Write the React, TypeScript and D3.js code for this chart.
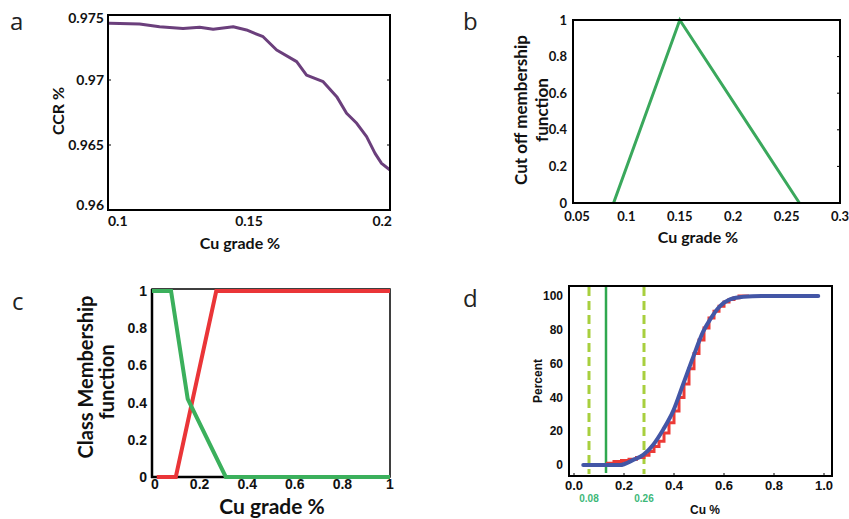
import React from "react";
import * as d3 from "d3";

// Panel a: CCR vs Cu grade cut-off
const ccrGrade = [0.1, 0.1006, 0.1112, 0.1183, 0.1266, 0.1325, 0.1373, 0.1444, 0.1491, 0.155, 0.1598, 0.1669, 0.1704, 0.1763, 0.1811, 0.1846, 0.1882, 0.1917, 0.1947, 0.197, 0.2];
const ccrValue = [0.97436, 0.97436, 0.97431, 0.9741, 0.97397, 0.97405, 0.9739, 0.9741, 0.97385, 0.97333, 0.97231, 0.97141, 0.97038, 0.96987, 0.96872, 0.96744, 0.96667, 0.96564, 0.96436, 0.96359, 0.96308];
const ccrYTicks = [0.96, 0.965, 0.97, 0.975];
const ccrYLabels = ["0.96", "0.965", "0.97", "0.975"];
const ccrXTicks = [0.1, 0.15, 0.2];
const ccrXLabels = ["0.1", "0.15", "0.2"];

// Panel b: triangular cut-off membership function
const cutGrade = [0.088, 0.15, 0.262];
const cutMembership = [0, 1, 0];
const cutXTicks = [0.05, 0.1, 0.15, 0.2, 0.25, 0.3];
const cutXLabels = ["0.05", "0.1", "0.15", "0.2", "0.25", "0.3"];
const unitTicks = [0, 0.2, 0.4, 0.6, 0.8, 1];
const unitLabels = ["0", "0.2", "0.4", "0.6", "0.8", "1"];

// Panel c: class membership functions
const highGrade = [0.02, 0.1, 0.27, 1];
const highMembership = [0, 0, 1, 1];
const lowGrade = [0, 0.08, 0.15, 0.31, 1];
const lowMembership = [1, 1, 0.42, 0, 0];
const classXLabels = ["0", "0.2", "0.4", "0.6", "0.8", "1"];

// Panel d: cumulative distribution of Cu %
const fitCu = [0.037, 0.184, 0.237, 0.277, 0.317, 0.357, 0.397, 0.437, 0.477, 0.517, 0.544, 0.584, 0.624, 0.677, 0.75, 0.977];
const fitPercent = [0, 0, 3, 6, 12, 21, 32, 48, 64, 79, 86, 94, 98, 99.6, 100, 100];
const sampleCu = [0.128, 0.16, 0.19, 0.22, 0.25, 0.28, 0.3, 0.32, 0.34, 0.36, 0.38, 0.4, 0.42, 0.44, 0.46, 0.48, 0.5, 0.52, 0.54, 0.56, 0.58, 0.6, 0.62, 0.64, 0.66, 0.7];
const samplePercent = [1, 2, 2.6, 3.4, 4.4, 5.8, 8, 11, 14, 19, 25, 32, 40, 48, 57, 66, 74, 81, 87, 91, 94, 96.5, 98, 99, 100, 100];
const boundCu = [0.06, 0.28];
const boundLabels = ["0.08", "0.26"];
const cutCu = 0.128;
const cdfYTicks = [0, 20, 40, 60, 80, 100];
const cdfXTicks = [0, 0.2, 0.4, 0.6, 0.8, 1.0];
const cdfXLabels = ["0.0", "0.2", "0.4", "0.6", "0.8", "1.0"];

const calibri = "Lato, 'Open Sans', sans-serif";
const arial = "'Liberation Sans', Arial, sans-serif";
const panelFont = "'Open Sans', sans-serif";

function zip(xs: number[], ys: number[]): [number, number][] {
  return xs.map((x, i) => [x, ys[i]]);
}

function PanelA() {
  const x = d3.scaleLinear().domain([0.1, 0.2]).range([108, 390]);
  const y = d3.scaleLinear().domain([0.96, 0.975]).range([210, 15]);
  const line = d3.line<[number, number]>().x((d) => x(d[0])).y((d) => y(d[1])).curve(d3.curveLinear);
  const last = ccrXTicks.length - 1;
  return (
    <g>
      <text x={10} y={30} fontFamily={panelFont} fontSize={24} fill="#222">a</text>
      <path d={line(zip(ccrGrade, ccrValue)) || ""} fill="none" stroke="#6b3f7c" strokeWidth={3} strokeLinejoin="round" />
      {ccrYTicks.map((t) => (
        <g key={t}>
          <line x1={108} x2={111} y1={y(t)} y2={y(t)} stroke="#000" />
          <line x1={387} x2={390} y1={y(t)} y2={y(t)} stroke="#000" />
        </g>
      ))}
      <rect x={108} y={15} width={282} height={195} fill="none" stroke="#000" strokeWidth={2} />
      {ccrYTicks.map((t, i) => (
        <text key={t} x={104} y={Math.min(Math.max(y(t), 18), 205)} dy="0.35em" textAnchor="end" fontFamily={calibri} fontWeight="bold" fontSize={14} fill="#111">{ccrYLabels[i]}</text>
      ))}
      {ccrXTicks.map((t, i) => (
        <text key={t} x={i === 0 ? x(t) : i === last ? x(t) + 2 : x(t)} y={226} textAnchor={i === 0 ? "start" : i === last ? "end" : "middle"} fontFamily={calibri} fontWeight="bold" fontSize={14} fill="#111">{ccrXLabels[i]}</text>
      ))}
      <text x={240} y={249} textAnchor="middle" fontFamily={calibri} fontWeight="bold" fontSize={16} fill="#111">Cu grade %</text>
      <text transform="translate(64,111) rotate(-90)" textAnchor="middle" fontFamily={calibri} fontWeight="bold" fontSize={16} fill="#111">CCR %</text>
    </g>
  );
}

function PanelB() {
  const x = d3.scaleLinear().domain([0.05, 0.3]).range([573, 840]);
  const y = d3.scaleLinear().domain([0, 1]).range([203, 20]);
  const line = d3.line<[number, number]>().x((d) => x(d[0])).y((d) => y(d[1]));
  return (
    <g>
      <text x={463} y={30} fontFamily={panelFont} fontSize={24} fill="#222">b</text>
      <path d={line(zip(cutGrade, cutMembership)) || ""} fill="none" stroke="#3aa85c" strokeWidth={3} strokeLinejoin="miter" />
      {unitTicks.map((t) => (
        <line key={t} x1={837} x2={840} y1={y(t)} y2={y(t)} stroke="#000" />
      ))}
      <rect x={573} y={20} width={267} height={183} fill="none" stroke="#000" strokeWidth={2} />
      {unitTicks.map((t, i) => (
        <text key={t} x={567} y={y(t)} dy="0.35em" textAnchor="end" fontFamily={calibri} fontWeight="bold" fontSize={13} fill="#111">{unitLabels[i]}</text>
      ))}
      {cutXTicks.map((t, i) => (
        <text key={t} x={x(t) + (i === 0 ? 4 : 0)} y={221} textAnchor="middle" fontFamily={calibri} fontWeight="bold" fontSize={13} fill="#111">{cutXLabels[i]}</text>
      ))}
      <text x={698} y={243} textAnchor="middle" fontFamily={calibri} fontWeight="bold" fontSize={16} fill="#111">Cu grade %</text>
      <text transform="translate(527,110) rotate(-90)" textAnchor="middle" fontFamily={calibri} fontWeight="bold" fontSize={17} fill="#111">Cut off membership</text>
      <text transform="translate(548,110) rotate(-90)" textAnchor="middle" fontFamily={calibri} fontWeight="bold" fontSize={17} fill="#111">function</text>
    </g>
  );
}

function PanelC() {
  const x = d3.scaleLinear().domain([0, 1]).range([152, 390]);
  const y = d3.scaleLinear().domain([0, 1]).range([477, 291]);
  const line = d3.line<[number, number]>().x((d) => x(d[0])).y((d) => y(d[1]));
  return (
    <g>
      <text x={12} y={310} fontFamily={panelFont} fontSize={24} fill="#222">c</text>
      <rect x={152} y={289} width={238} height={188} fill="none" stroke="#000" strokeWidth={1.5} />
      <line x1={152} x2={152} y1={289} y2={478} stroke="#000" strokeWidth={2.5} />
      <line x1={151} x2={390} y1={477} y2={477} stroke="#000" strokeWidth={2.5} />
      <path d={line(zip(highGrade, highMembership)) || ""} fill="none" stroke="#ea3538" strokeWidth={4} />
      <path d={line(zip(lowGrade, lowMembership)) || ""} fill="none" stroke="#3bb05c" strokeWidth={4} />
      {unitTicks.map((t, i) => (
        <text key={t} x={147} y={y(t)} dy="0.35em" textAnchor="end" fontFamily={arial} fontWeight="bold" fontSize={14} fill="#111">{unitLabels[i]}</text>
      ))}
      {unitTicks.map((t, i) => (
        <text key={t} x={x(t) + (i === 0 ? 3 : 0)} y={489} textAnchor="middle" fontFamily={arial} fontWeight="bold" fontSize={14} fill="#111">{classXLabels[i]}</text>
      ))}
      <text x={272} y={514} textAnchor="middle" fontFamily={calibri} fontWeight="bold" fontSize={21} fill="#111">Cu grade %</text>
      <text transform="translate(93,377) rotate(-90)" textAnchor="middle" fontFamily={calibri} fontWeight="bold" fontSize={20} fill="#111">Class Membership</text>
      <text transform="translate(114,382) rotate(-90)" textAnchor="middle" fontFamily={calibri} fontWeight="bold" fontSize={20} fill="#111">function</text>
    </g>
  );
}

function PanelD() {
  const x = d3.scaleLinear().domain([0, 1]).range([574, 824]);
  const y = d3.scaleLinear().domain([0, 100]).range([465, 296]);
  const fit = d3.line<[number, number]>().x((d) => x(d[0])).y((d) => y(d[1])).curve(d3.curveMonotoneX);
  const steps = d3.line<[number, number]>().x((d) => x(d[0])).y((d) => y(d[1])).curve(d3.curveStepAfter);
  return (
    <g>
      <text x={463} y={307} fontFamily={panelFont} fontSize={24} fill="#222">d</text>
      {boundCu.map((b) => (
        <line key={b} x1={x(b)} x2={x(b)} y1={287} y2={474} stroke="#a8cf3e" strokeWidth={3} strokeDasharray="9,5" />
      ))}
      <line x1={x(cutCu)} x2={x(cutCu)} y1={287} y2={473} stroke="#2fa84f" strokeWidth={2.5} />
      <path d={steps(zip(sampleCu, samplePercent)) || ""} fill="none" stroke="#ec3a36" strokeWidth={3} />
      <path d={fit(zip(fitCu, fitPercent)) || ""} fill="none" stroke="#4356a6" strokeWidth={4} strokeLinecap="round" />
      {cdfXTicks.map((t) => (
        <line key={t} x1={x(t)} x2={x(t)} y1={476} y2={473} stroke="#000" />
      ))}
      <rect x={569} y={286} width={263} height={190} fill="none" stroke="#000" strokeWidth={2} />
      {cdfYTicks.map((t) => (
        <text key={t} x={563} y={y(t)} dy="0.35em" textAnchor="end" fontFamily={arial} fontWeight="bold" fontSize={12} fill="#111">{t}</text>
      ))}
      {cdfXTicks.map((t, i) => (
        <text key={t} x={x(t)} y={490} textAnchor="middle" fontFamily={arial} fontWeight="bold" fontSize={13} fill="#111">{cdfXLabels[i]}</text>
      ))}
      {boundCu.map((b, i) => (
        <text key={b} x={x(b)} y={502} textAnchor="middle" fontFamily={arial} fontWeight="bold" fontSize={10} fill="#3cb878">{boundLabels[i]}</text>
      ))}
      <text x={705} y={514} textAnchor="middle" fontFamily={arial} fontWeight="bold" fontSize={12} fill="#111">Cu %</text>
      <text transform="translate(542,381) rotate(-90)" textAnchor="middle" fontFamily={arial} fontWeight="bold" fontSize={12} fill="#111">Percent</text>
    </g>
  );
}

export default function App() {
  return (
    <svg width={849} height={519} style={{ position: "absolute", left: 0, top: 0, background: "#fff" }}>
      <rect width={849} height={519} fill="#fff" />
      <PanelA />
      <PanelB />
      <PanelC />
      <PanelD />
    </svg>
  );
}
